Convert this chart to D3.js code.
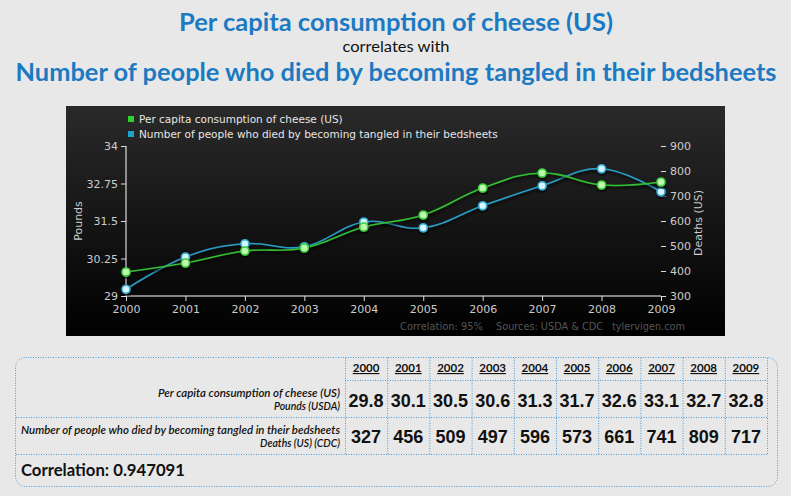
<!DOCTYPE html>
<html><head><meta charset="utf-8">
<script src="https://cdn.jsdelivr.net/npm/d3@7"></script>
<style>body{margin:0;background:#e8e8e8;} svg{display:block}</style>
</head><body><svg id="c" width="791" height="496"></svg>
<script>
const years = [2000,2001,2002,2003,2004,2005,2006,2007,2008,2009];
const cheese = [29.8,30.1,30.5,30.6,31.3,31.7,32.6,33.1,32.7,32.8];
const deaths = [327,456,509,497,596,573,661,741,809,717];
const poundTicks = [29,30.25,31.5,32.75,34];
const deathTicks = [300,400,500,600,700,800,900];
const title1 = "Per capita consumption of cheese (US)";
const title2 = "Number of people who died by becoming tangled in their bedsheets";
const unit1 = "Pounds (USDA)";
const unit2 = "Deaths (US) (CDC)";
const axis1 = "Pounds";
const axis2 = "Deaths (US)";
const correlation = "0.947091";
const footerParts = ["Correlation: 95%", "Sources: USDA & CDC", "tylervigen.com"];

const svg = d3.select("#c");
const defs = svg.append("defs");
const grad = defs.append("linearGradient").attr("id","bg").attr("x1",0).attr("y1",0).attr("x2",0).attr("y2",1);
grad.append("stop").attr("offset","0%").attr("stop-color","#2a2a2a");
grad.append("stop").attr("offset","100%").attr("stop-color","#000");
const sh = defs.append("filter").attr("id","sh").attr("x","-10%").attr("y","-10%").attr("width","120%").attr("height","140%");
sh.append("feDropShadow").attr("dx",1).attr("dy",2).attr("stdDeviation",1.5).attr("flood-color","#000").attr("flood-opacity",0.9);

// Titles
const blue = "#1c7ac2";
const tf = "Lato, 'Open Sans', sans-serif";
svg.append("text").attr("x",396).attr("y",31).attr("text-anchor","middle")
  .attr("font-family",tf).attr("font-weight","bold").attr("font-size",25).attr("fill",blue)
  .attr("textLength",434).attr("lengthAdjust","spacingAndGlyphs").text(title1);
svg.append("text").attr("x",396).attr("y",52).attr("text-anchor","middle")
  .attr("font-family",tf).attr("font-size",14.5).attr("fill","#111")
  .attr("textLength",107).attr("lengthAdjust","spacingAndGlyphs").text("correlates with");
svg.append("text").attr("x",396).attr("y",81).attr("text-anchor","middle")
  .attr("font-family",tf).attr("font-weight","bold").attr("font-size",25).attr("fill",blue)
  .attr("textLength",761).attr("lengthAdjust","spacingAndGlyphs").text(title2);

// Chart panel
svg.append("rect").attr("x",66).attr("y",106).attr("width",659).attr("height",230).attr("fill","url(#bg)");

const cf = "'DejaVu Sans', sans-serif";
const x = d3.scalePoint().domain(years).range([126,661]);
const yL = d3.scaleLinear().domain([29,34]).range([296,146]);
const yR = d3.scaleLinear().domain([300,900]).range([296,146]);

const gL = svg.append("g").attr("transform","translate(126,0)")
  .call(d3.axisLeft(yL).tickValues(poundTicks).tickSize(5).tickPadding(3).tickFormat(d=>String(d)));
gL.select(".domain").attr("stroke","#fff").attr("d","M0,146V296");
gL.selectAll(".tick line").attr("stroke","#ddd");
gL.selectAll("text").attr("fill","#ccc").attr("font-family",cf).attr("font-size",11);

const gR = svg.append("g").attr("transform","translate(661,0)")
  .call(d3.axisRight(yR).tickValues(deathTicks).tickSize(5).tickPadding(4));
gR.select(".domain").remove();
gR.selectAll(".tick line").attr("stroke","#ddd");
gR.selectAll("text").attr("fill","#ccc").attr("font-family",cf).attr("font-size",11);

const gX = svg.append("g").attr("transform","translate(0,296)")
  .call(d3.axisBottom(x).tickSize(5).tickPadding(4));
gX.select(".domain").attr("stroke","#fff").attr("d","M126,0H661");
gX.selectAll(".tick line").attr("stroke","#ddd");
gX.selectAll("text").attr("fill","#ccc").attr("font-family",cf).attr("font-size",11);

svg.append("text").attr("transform","translate(82,221) rotate(-90)").attr("text-anchor","middle")
  .attr("font-family",cf).attr("font-size",11).attr("fill","#ccc").text(axis1);
svg.append("text").attr("transform","translate(702,223) rotate(-90)").attr("text-anchor","middle")
  .attr("font-family",cf).attr("font-size",11).attr("fill","#ccc").text(axis2);

// Legend
const leg = [{name:title1,color:"#2ed12e"},{name:title2,color:"#1ea3c9"}];
leg.forEach((l,i)=>{
  svg.append("rect").attr("x",128).attr("y",116+i*15).attr("width",6).attr("height",6).attr("fill",l.color);
  svg.append("text").attr("x",139).attr("y",123+i*15).attr("font-family",cf).attr("font-size",10.5)
    .attr("fill","#e6e6e6").text(l.name);
});

// Lines
const curve = d3.curveCardinal.tension(-0.2);
const series = [
  {vals:deaths, y:yR, color:"#2a9cc4", fill:"#d6f5ff", ring:"#36a9d0"},
  {vals:cheese, y:yL, color:"#33c033", fill:"#c2f7b0", ring:"#3fd03f"}
];
series.forEach(s=>{
  const line = d3.line().x((d,i)=>x(years[i])).y(d=>s.y(d)).curve(curve);
  svg.append("path").datum(s.vals).attr("d",line).attr("fill","none")
    .attr("stroke",s.color).attr("stroke-width",1.6).attr("filter","url(#sh)");
});
series.forEach(s=>{
  svg.append("g").selectAll("circle").data(s.vals).join("circle")
    .attr("cx",(d,i)=>x(years[i])).attr("cy",d=>s.y(d)).attr("r",4)
    .attr("fill",s.fill).attr("stroke",s.ring).attr("stroke-width",1.6).attr("filter","url(#sh)");
});

// Footer credits
const fpos = [{x:400,w:83},{x:496,w:107},{x:612,w:73}];
footerParts.forEach((t,i)=>svg.append("text").attr("x",fpos[i].x).attr("y",330).attr("font-family",cf)
  .attr("font-size",11).attr("fill","#555").attr("textLength",fpos[i].w).attr("lengthAdjust","spacingAndGlyphs").text(t));

// Table
const bc = "#4a9ad8";
const dash = "1,1.5";
const colX = d3.scaleBand().domain(years).range([345,767]);
const tb = svg.append("g");
tb.append("rect").attr("x",15.5).attr("y",357.5).attr("width",762).attr("height",129).attr("rx",10)
  .attr("fill","none").attr("stroke",bc).attr("stroke-dasharray",dash);
[380.5].forEach(yy=>tb.append("line").attr("x1",345).attr("x2",767).attr("y1",yy).attr("y2",yy)
  .attr("stroke",bc).attr("stroke-dasharray",dash));
[417.5,454.5].forEach(yy=>tb.append("line").attr("x1",16).attr("x2",767).attr("y1",yy).attr("y2",yy)
  .attr("stroke",bc).attr("stroke-dasharray",dash));
const vlines = years.map(y=>colX(y)).concat([767]);
tb.selectAll("line.v").data(vlines).join("line").attr("class","v")
  .attr("x1",d=>d+0.5).attr("x2",d=>d+0.5).attr("y1",358).attr("y2",454)
  .attr("stroke",bc).attr("stroke-dasharray",dash);

const nf = "'Liberation Sans Narrow', 'Liberation Sans', sans-serif";
const lf = "Lato, 'Open Sans', sans-serif";
tb.selectAll("text.yr").data(years).join("text").attr("class","yr")
  .attr("x",d=>colX(d)+colX.bandwidth()/2).attr("y",372).attr("text-anchor","middle")
  .attr("font-family",lf).attr("font-weight","bold").attr("font-size",11.5).attr("fill","#111")
  .attr("text-decoration","underline").text(d=>d);
tb.selectAll("text.v1").data(cheese).join("text").attr("class","v1")
  .attr("x",(d,i)=>colX(years[i])+colX.bandwidth()/2).attr("y",406.5).attr("text-anchor","middle")
  .attr("font-family",nf).attr("font-weight","bold").attr("font-size",18).attr("fill","#111")
  .text(d=>d.toFixed(1));
tb.selectAll("text.v2").data(deaths).join("text").attr("class","v2")
  .attr("x",(d,i)=>colX(years[i])+colX.bandwidth()/2).attr("y",443).attr("text-anchor","middle")
  .attr("font-family",nf).attr("font-weight","bold").attr("font-size",18).attr("fill","#111")
  .text(d=>d);
const labs = [
  {t:title1,y:396.5,w:182},{t:unit1,y:409.5,w:66},
  {t:title2,y:434,w:319},{t:unit2,y:446.5,w:80}
];
labs.forEach(l=>tb.append("text").attr("x",340).attr("y",l.y).attr("text-anchor","end")
  .attr("font-family",lf).attr("font-style","italic").attr("font-weight","600").attr("font-size",10.5).attr("fill","#111")
  .attr("textLength",l.w).attr("lengthAdjust","spacingAndGlyphs").text(l.t));
tb.append("text").attr("x",21).attr("y",476).attr("font-family",lf).attr("font-weight","bold")
  .attr("font-size",17).attr("fill","#111").attr("textLength",164).attr("lengthAdjust","spacingAndGlyphs")
  .text("Correlation: " + correlation);
</script></body></html>
